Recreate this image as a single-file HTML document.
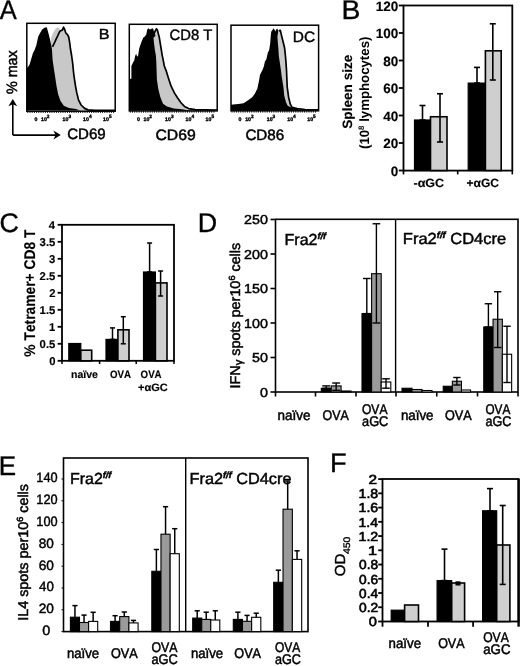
<!DOCTYPE html>
<html><head><meta charset="utf-8"><style>
html,body{margin:0;padding:0;background:#fff;width:520px;height:666px;overflow:hidden}
svg{display:block;will-change:transform}
text{font-family:"Liberation Sans", sans-serif;fill:#000;font-kerning:none;text-rendering:geometricPrecision}
</style></head><body>
<svg width="520" height="666" viewBox="0 0 520 666">
<rect x="0" y="0" width="520" height="666" fill="#fff"/>
<text x="-0.25" y="18.75" font-size="27" textLength="17" lengthAdjust="spacingAndGlyphs" stroke="#000" stroke-width="0.35">A</text>
<text x="341.57" y="18.75" font-size="27" textLength="18.92" lengthAdjust="spacingAndGlyphs" stroke="#000" stroke-width="0.35">B</text>
<text x="-0.46" y="231.5" font-size="27" textLength="19.39" lengthAdjust="spacingAndGlyphs" stroke="#000" stroke-width="0.35">C</text>
<text x="197.7" y="231.8" font-size="27" textLength="19.39" lengthAdjust="spacingAndGlyphs" stroke="#000" stroke-width="0.35">D</text>
<text x="-1.23" y="474.7" font-size="27" textLength="17.35" lengthAdjust="spacingAndGlyphs" stroke="#000" stroke-width="0.35">E</text>
<text x="329.97" y="472.4" font-size="27" textLength="16.62" lengthAdjust="spacingAndGlyphs" stroke="#000" stroke-width="0.35">F</text>
<polygon points="52,110.5 50.8,39.3 52,35.3 53.7,31.8 55.4,28.9 57.2,27.2 58.9,27.8 60.6,30.7 62.3,30.1 63.5,27.2 64.7,29.5 65.8,33 67.5,34.7 68.7,37 69.6,42.2 70.4,48.5 71.6,55.5 72.7,63.5 73.5,72 74.2,77.3 75.5,86 76.8,92.9 78.5,99.8 81.1,105 84.6,108.4 88,109.7 90,110.5" fill="#c8c8c8"/>
<polygon points="26.8,110.5 26.8,68.4 29.5,64.7 31.2,58.9 32.9,53.2 34.7,49.7 36.4,45.1 38.1,37 39.8,33.5 42.2,29.5 44.5,27.8 46.8,27.2 47.9,31.2 49.1,35.8 50.2,40.5 51.2,45.1 52,49.7 52.6,60 53.9,68.7 55.2,77.3 56.5,86 58.2,94.6 60.4,100.7 63.8,105.8 69,108 76,108.9 80,110.5" fill="#000"/>
<polyline points="52.5,46.8 54.8,42.2 56,39.3 57.7,35.8 59.5,31.8 60.6,30.7 62.3,30.1 63.5,27.2 64.7,29.5 65.8,33 67.5,34.7 68.7,37 69.6,42.2 70.4,48.5 71.6,55.5 72.7,63.5 73.5,72 74.2,77.3 75.5,86 76.8,92.9 78.5,99.8 81.1,105 84.6,108.4 88,109.9 95,110.3 115,110.3" fill="none" stroke="#000" stroke-width="1.7" stroke-linejoin="round"/>
<polygon points="153,110.5 153,37 154,33.6 155.4,30.7 156.4,28.8 157.3,29.8 158.3,33.6 159.3,37.5 160.2,43.2 161.2,49 162.1,54.8 163.1,59.6 164.3,66 166.4,71.4 168.4,78.1 171.1,86.2 174.4,92.9 177.8,98.3 181.2,103 184.5,106.4 188.6,108.6 195.3,109.6 200,110.5" fill="#c8c8c8"/>
<polygon points="129.3,110.5 129.3,79 131.4,78.8 131.4,66 133.3,62 134.25,60.5 135.2,55.7 136.2,53.8 137.1,56.7 138.1,55.7 139.1,49 140,46.1 141,43.2 141.9,40.8 143.4,37.5 144.8,36.5 146.3,34.6 147.2,29.8 148.2,28.3 149.6,29.3 151.1,29.3 152,28.3 153.2,28.8 154,31.7 154.9,33.6 155.5,36 153.5,37.5 154,43.2 154.9,50 155.9,55.7 156.3,62 156.9,79.5 158.3,88.9 160.3,97 163,103.7 167,106.4 173.8,108.4 181.8,109.3 190,110.5" fill="#000"/>
<polyline points="154,33.6 155.4,30.7 156.4,28.8 157.3,29.8 158.3,33.6 159.3,37.5 160.2,43.2 161.2,49 162.1,54.8 163.1,59.6 164.3,66 166.4,71.4 168.4,78.1 171.1,86.2 174.4,92.9 177.8,98.3 181.2,103 184.5,106.4 188.6,108.6 195.3,109.6 217,110" fill="none" stroke="#000" stroke-width="1.7" stroke-linejoin="round"/>
<polygon points="277,110.5 277,33 278.8,30.7 280.3,30.3 281.3,34.6 282.7,40.3 283.7,44.2 284.6,48 285.1,52.8 285.6,57.7 286.1,64.4 286.5,70.2 287.2,86.8 288.6,97.2 290.3,104.1 292,107.3 297.2,108.6 305,109.6 300,110.5" fill="#c8c8c8"/>
<polygon points="231,110.5 231,104.8 233.2,104.4 238.4,104.1 243.6,103.2 246.2,101.5 248.8,99.7 252.2,97.2 254.8,93.7 257.4,88.5 259.2,79.8 260,74.7 262.5,70 263.9,66.3 264.9,61.5 266.3,59.6 267.8,52.8 269.2,50 270.2,43.2 270.7,36.5 271.2,31.7 272.6,29.8 273.6,28.3 274.5,29.8 275.5,31.2 276.4,29.3 277.4,28.8 278.4,30.7 277.4,36.5 277.9,43.2 278.4,49 278.8,55.7 279.8,62.5 280.8,69.2 281.7,76.4 283.4,86.8 284.2,95.4 286,102.3 287.7,105.8 291.2,107.6 297.2,108.6 300,110.5" fill="#000"/>
<polyline points="278.8,30.7 280.3,30.3 281.3,34.6 282.7,40.3 283.7,44.2 284.6,48 285.1,52.8 285.6,57.7 286.1,64.4 286.5,70.2 287.2,86.8 288.6,97.2 290.3,104.1 292,107.3 297.2,108.6 305,109.6 318,109.9" fill="none" stroke="#000" stroke-width="1.7" stroke-linejoin="round"/>
<rect x="26.8" y="23.3" width="88.4" height="87.9" fill="none" stroke="#000" stroke-width="1.5"/>
<line x1="27.8" y1="111.2" x2="27.8" y2="113" stroke="#000" stroke-width="0.9"/>
<line x1="30" y1="111.2" x2="30" y2="113" stroke="#000" stroke-width="0.9"/>
<line x1="32.2" y1="111.2" x2="32.2" y2="113" stroke="#000" stroke-width="0.9"/>
<line x1="34.4" y1="111.2" x2="34.4" y2="113" stroke="#000" stroke-width="0.9"/>
<line x1="36.6" y1="111.2" x2="36.6" y2="113" stroke="#000" stroke-width="0.9"/>
<line x1="38.8" y1="111.2" x2="38.8" y2="113" stroke="#000" stroke-width="0.9"/>
<line x1="41" y1="111.2" x2="41" y2="113" stroke="#000" stroke-width="0.9"/>
<line x1="43.2" y1="111.2" x2="43.2" y2="113" stroke="#000" stroke-width="0.9"/>
<line x1="45.4" y1="111.2" x2="45.4" y2="113" stroke="#000" stroke-width="0.9"/>
<line x1="47.6" y1="111.2" x2="47.6" y2="113" stroke="#000" stroke-width="0.9"/>
<line x1="49.8" y1="111.2" x2="49.8" y2="113" stroke="#000" stroke-width="0.9"/>
<line x1="52" y1="111.2" x2="52" y2="113" stroke="#000" stroke-width="0.9"/>
<line x1="54.2" y1="111.2" x2="54.2" y2="113" stroke="#000" stroke-width="0.9"/>
<line x1="56.4" y1="111.2" x2="56.4" y2="113" stroke="#000" stroke-width="0.9"/>
<line x1="58.6" y1="111.2" x2="58.6" y2="113" stroke="#000" stroke-width="0.9"/>
<line x1="60.8" y1="111.2" x2="60.8" y2="113" stroke="#000" stroke-width="0.9"/>
<line x1="63" y1="111.2" x2="63" y2="113" stroke="#000" stroke-width="0.9"/>
<line x1="65.2" y1="111.2" x2="65.2" y2="113" stroke="#000" stroke-width="0.9"/>
<line x1="67.4" y1="111.2" x2="67.4" y2="113" stroke="#000" stroke-width="0.9"/>
<line x1="69.6" y1="111.2" x2="69.6" y2="113" stroke="#000" stroke-width="0.9"/>
<line x1="71.8" y1="111.2" x2="71.8" y2="113" stroke="#000" stroke-width="0.9"/>
<line x1="74" y1="111.2" x2="74" y2="113" stroke="#000" stroke-width="0.9"/>
<line x1="76.2" y1="111.2" x2="76.2" y2="113" stroke="#000" stroke-width="0.9"/>
<line x1="78.4" y1="111.2" x2="78.4" y2="113" stroke="#000" stroke-width="0.9"/>
<line x1="80.6" y1="111.2" x2="80.6" y2="113" stroke="#000" stroke-width="0.9"/>
<line x1="82.8" y1="111.2" x2="82.8" y2="113" stroke="#000" stroke-width="0.9"/>
<line x1="85" y1="111.2" x2="85" y2="113" stroke="#000" stroke-width="0.9"/>
<line x1="87.2" y1="111.2" x2="87.2" y2="113" stroke="#000" stroke-width="0.9"/>
<line x1="89.4" y1="111.2" x2="89.4" y2="113" stroke="#000" stroke-width="0.9"/>
<line x1="91.6" y1="111.2" x2="91.6" y2="113" stroke="#000" stroke-width="0.9"/>
<line x1="93.8" y1="111.2" x2="93.8" y2="113" stroke="#000" stroke-width="0.9"/>
<line x1="96" y1="111.2" x2="96" y2="113" stroke="#000" stroke-width="0.9"/>
<line x1="98.2" y1="111.2" x2="98.2" y2="113" stroke="#000" stroke-width="0.9"/>
<line x1="100.4" y1="111.2" x2="100.4" y2="113" stroke="#000" stroke-width="0.9"/>
<line x1="102.6" y1="111.2" x2="102.6" y2="113" stroke="#000" stroke-width="0.9"/>
<line x1="104.8" y1="111.2" x2="104.8" y2="113" stroke="#000" stroke-width="0.9"/>
<line x1="107" y1="111.2" x2="107" y2="113" stroke="#000" stroke-width="0.9"/>
<line x1="109.2" y1="111.2" x2="109.2" y2="113" stroke="#000" stroke-width="0.9"/>
<line x1="111.4" y1="111.2" x2="111.4" y2="113" stroke="#000" stroke-width="0.9"/>
<line x1="113.6" y1="111.2" x2="113.6" y2="113" stroke="#000" stroke-width="0.9"/>
<rect x="129.3" y="24.3" width="87.9" height="86.6" fill="none" stroke="#000" stroke-width="1.5"/>
<line x1="130.3" y1="110.9" x2="130.3" y2="112.7" stroke="#000" stroke-width="0.9"/>
<line x1="132.5" y1="110.9" x2="132.5" y2="112.7" stroke="#000" stroke-width="0.9"/>
<line x1="134.7" y1="110.9" x2="134.7" y2="112.7" stroke="#000" stroke-width="0.9"/>
<line x1="136.9" y1="110.9" x2="136.9" y2="112.7" stroke="#000" stroke-width="0.9"/>
<line x1="139.1" y1="110.9" x2="139.1" y2="112.7" stroke="#000" stroke-width="0.9"/>
<line x1="141.3" y1="110.9" x2="141.3" y2="112.7" stroke="#000" stroke-width="0.9"/>
<line x1="143.5" y1="110.9" x2="143.5" y2="112.7" stroke="#000" stroke-width="0.9"/>
<line x1="145.7" y1="110.9" x2="145.7" y2="112.7" stroke="#000" stroke-width="0.9"/>
<line x1="147.9" y1="110.9" x2="147.9" y2="112.7" stroke="#000" stroke-width="0.9"/>
<line x1="150.1" y1="110.9" x2="150.1" y2="112.7" stroke="#000" stroke-width="0.9"/>
<line x1="152.3" y1="110.9" x2="152.3" y2="112.7" stroke="#000" stroke-width="0.9"/>
<line x1="154.5" y1="110.9" x2="154.5" y2="112.7" stroke="#000" stroke-width="0.9"/>
<line x1="156.7" y1="110.9" x2="156.7" y2="112.7" stroke="#000" stroke-width="0.9"/>
<line x1="158.9" y1="110.9" x2="158.9" y2="112.7" stroke="#000" stroke-width="0.9"/>
<line x1="161.1" y1="110.9" x2="161.1" y2="112.7" stroke="#000" stroke-width="0.9"/>
<line x1="163.3" y1="110.9" x2="163.3" y2="112.7" stroke="#000" stroke-width="0.9"/>
<line x1="165.5" y1="110.9" x2="165.5" y2="112.7" stroke="#000" stroke-width="0.9"/>
<line x1="167.7" y1="110.9" x2="167.7" y2="112.7" stroke="#000" stroke-width="0.9"/>
<line x1="169.9" y1="110.9" x2="169.9" y2="112.7" stroke="#000" stroke-width="0.9"/>
<line x1="172.1" y1="110.9" x2="172.1" y2="112.7" stroke="#000" stroke-width="0.9"/>
<line x1="174.3" y1="110.9" x2="174.3" y2="112.7" stroke="#000" stroke-width="0.9"/>
<line x1="176.5" y1="110.9" x2="176.5" y2="112.7" stroke="#000" stroke-width="0.9"/>
<line x1="178.7" y1="110.9" x2="178.7" y2="112.7" stroke="#000" stroke-width="0.9"/>
<line x1="180.9" y1="110.9" x2="180.9" y2="112.7" stroke="#000" stroke-width="0.9"/>
<line x1="183.1" y1="110.9" x2="183.1" y2="112.7" stroke="#000" stroke-width="0.9"/>
<line x1="185.3" y1="110.9" x2="185.3" y2="112.7" stroke="#000" stroke-width="0.9"/>
<line x1="187.5" y1="110.9" x2="187.5" y2="112.7" stroke="#000" stroke-width="0.9"/>
<line x1="189.7" y1="110.9" x2="189.7" y2="112.7" stroke="#000" stroke-width="0.9"/>
<line x1="191.9" y1="110.9" x2="191.9" y2="112.7" stroke="#000" stroke-width="0.9"/>
<line x1="194.1" y1="110.9" x2="194.1" y2="112.7" stroke="#000" stroke-width="0.9"/>
<line x1="196.3" y1="110.9" x2="196.3" y2="112.7" stroke="#000" stroke-width="0.9"/>
<line x1="198.5" y1="110.9" x2="198.5" y2="112.7" stroke="#000" stroke-width="0.9"/>
<line x1="200.7" y1="110.9" x2="200.7" y2="112.7" stroke="#000" stroke-width="0.9"/>
<line x1="202.9" y1="110.9" x2="202.9" y2="112.7" stroke="#000" stroke-width="0.9"/>
<line x1="205.1" y1="110.9" x2="205.1" y2="112.7" stroke="#000" stroke-width="0.9"/>
<line x1="207.3" y1="110.9" x2="207.3" y2="112.7" stroke="#000" stroke-width="0.9"/>
<line x1="209.5" y1="110.9" x2="209.5" y2="112.7" stroke="#000" stroke-width="0.9"/>
<line x1="211.7" y1="110.9" x2="211.7" y2="112.7" stroke="#000" stroke-width="0.9"/>
<line x1="213.9" y1="110.9" x2="213.9" y2="112.7" stroke="#000" stroke-width="0.9"/>
<rect x="231" y="25.2" width="87.6" height="85.6" fill="none" stroke="#000" stroke-width="1.5"/>
<line x1="232" y1="110.8" x2="232" y2="112.6" stroke="#000" stroke-width="0.9"/>
<line x1="234.2" y1="110.8" x2="234.2" y2="112.6" stroke="#000" stroke-width="0.9"/>
<line x1="236.4" y1="110.8" x2="236.4" y2="112.6" stroke="#000" stroke-width="0.9"/>
<line x1="238.6" y1="110.8" x2="238.6" y2="112.6" stroke="#000" stroke-width="0.9"/>
<line x1="240.8" y1="110.8" x2="240.8" y2="112.6" stroke="#000" stroke-width="0.9"/>
<line x1="243" y1="110.8" x2="243" y2="112.6" stroke="#000" stroke-width="0.9"/>
<line x1="245.2" y1="110.8" x2="245.2" y2="112.6" stroke="#000" stroke-width="0.9"/>
<line x1="247.4" y1="110.8" x2="247.4" y2="112.6" stroke="#000" stroke-width="0.9"/>
<line x1="249.6" y1="110.8" x2="249.6" y2="112.6" stroke="#000" stroke-width="0.9"/>
<line x1="251.8" y1="110.8" x2="251.8" y2="112.6" stroke="#000" stroke-width="0.9"/>
<line x1="254" y1="110.8" x2="254" y2="112.6" stroke="#000" stroke-width="0.9"/>
<line x1="256.2" y1="110.8" x2="256.2" y2="112.6" stroke="#000" stroke-width="0.9"/>
<line x1="258.4" y1="110.8" x2="258.4" y2="112.6" stroke="#000" stroke-width="0.9"/>
<line x1="260.6" y1="110.8" x2="260.6" y2="112.6" stroke="#000" stroke-width="0.9"/>
<line x1="262.8" y1="110.8" x2="262.8" y2="112.6" stroke="#000" stroke-width="0.9"/>
<line x1="265" y1="110.8" x2="265" y2="112.6" stroke="#000" stroke-width="0.9"/>
<line x1="267.2" y1="110.8" x2="267.2" y2="112.6" stroke="#000" stroke-width="0.9"/>
<line x1="269.4" y1="110.8" x2="269.4" y2="112.6" stroke="#000" stroke-width="0.9"/>
<line x1="271.6" y1="110.8" x2="271.6" y2="112.6" stroke="#000" stroke-width="0.9"/>
<line x1="273.8" y1="110.8" x2="273.8" y2="112.6" stroke="#000" stroke-width="0.9"/>
<line x1="276" y1="110.8" x2="276" y2="112.6" stroke="#000" stroke-width="0.9"/>
<line x1="278.2" y1="110.8" x2="278.2" y2="112.6" stroke="#000" stroke-width="0.9"/>
<line x1="280.4" y1="110.8" x2="280.4" y2="112.6" stroke="#000" stroke-width="0.9"/>
<line x1="282.6" y1="110.8" x2="282.6" y2="112.6" stroke="#000" stroke-width="0.9"/>
<line x1="284.8" y1="110.8" x2="284.8" y2="112.6" stroke="#000" stroke-width="0.9"/>
<line x1="287" y1="110.8" x2="287" y2="112.6" stroke="#000" stroke-width="0.9"/>
<line x1="289.2" y1="110.8" x2="289.2" y2="112.6" stroke="#000" stroke-width="0.9"/>
<line x1="291.4" y1="110.8" x2="291.4" y2="112.6" stroke="#000" stroke-width="0.9"/>
<line x1="293.6" y1="110.8" x2="293.6" y2="112.6" stroke="#000" stroke-width="0.9"/>
<line x1="295.8" y1="110.8" x2="295.8" y2="112.6" stroke="#000" stroke-width="0.9"/>
<line x1="298" y1="110.8" x2="298" y2="112.6" stroke="#000" stroke-width="0.9"/>
<line x1="300.2" y1="110.8" x2="300.2" y2="112.6" stroke="#000" stroke-width="0.9"/>
<line x1="302.4" y1="110.8" x2="302.4" y2="112.6" stroke="#000" stroke-width="0.9"/>
<line x1="304.6" y1="110.8" x2="304.6" y2="112.6" stroke="#000" stroke-width="0.9"/>
<line x1="306.8" y1="110.8" x2="306.8" y2="112.6" stroke="#000" stroke-width="0.9"/>
<line x1="309" y1="110.8" x2="309" y2="112.6" stroke="#000" stroke-width="0.9"/>
<line x1="311.2" y1="110.8" x2="311.2" y2="112.6" stroke="#000" stroke-width="0.9"/>
<line x1="313.4" y1="110.8" x2="313.4" y2="112.6" stroke="#000" stroke-width="0.9"/>
<line x1="315.6" y1="110.8" x2="315.6" y2="112.6" stroke="#000" stroke-width="0.9"/>
<text x="98.87" y="38.5" font-size="14.5" textLength="10.78" lengthAdjust="spacingAndGlyphs" stroke="#000" stroke-width="0.4">B</text>
<text x="169.45" y="39.8" font-size="15" textLength="42.89" lengthAdjust="spacingAndGlyphs" stroke="#000" stroke-width="0.4">CD8 T</text>
<text x="292.83" y="41.6" font-size="15" textLength="22.36" lengthAdjust="spacingAndGlyphs" stroke="#000" stroke-width="0.4">DC</text>
<text x="34.4" y="121.2" font-size="5.2" font-weight="bold" stroke="#000" stroke-width="0.35">0</text>
<text x="41" y="121.2" font-size="5.2" font-weight="bold" stroke="#000" stroke-width="0.35">10<tspan dy="-3" font-size="4.8">2</tspan></text>
<text x="62.6" y="121.2" font-size="5.2" font-weight="bold" stroke="#000" stroke-width="0.35">10<tspan dy="-3" font-size="4.8">3</tspan></text>
<text x="83.1" y="121.2" font-size="5.2" font-weight="bold" stroke="#000" stroke-width="0.35">10<tspan dy="-3" font-size="4.8">4</tspan></text>
<text x="103.1" y="121.2" font-size="5.2" font-weight="bold" stroke="#000" stroke-width="0.35">10<tspan dy="-3" font-size="4.8">5</tspan></text>
<text x="136.9" y="121.2" font-size="5.2" font-weight="bold" stroke="#000" stroke-width="0.35">0</text>
<text x="143.5" y="121.2" font-size="5.2" font-weight="bold" stroke="#000" stroke-width="0.35">10<tspan dy="-3" font-size="4.8">2</tspan></text>
<text x="165.1" y="121.2" font-size="5.2" font-weight="bold" stroke="#000" stroke-width="0.35">10<tspan dy="-3" font-size="4.8">3</tspan></text>
<text x="185.6" y="121.2" font-size="5.2" font-weight="bold" stroke="#000" stroke-width="0.35">10<tspan dy="-3" font-size="4.8">4</tspan></text>
<text x="205.6" y="121.2" font-size="5.2" font-weight="bold" stroke="#000" stroke-width="0.35">10<tspan dy="-3" font-size="4.8">5</tspan></text>
<text x="238.6" y="121.2" font-size="5.2" font-weight="bold" stroke="#000" stroke-width="0.35">0</text>
<text x="245.2" y="121.2" font-size="5.2" font-weight="bold" stroke="#000" stroke-width="0.35">10<tspan dy="-3" font-size="4.8">2</tspan></text>
<text x="266.8" y="121.2" font-size="5.2" font-weight="bold" stroke="#000" stroke-width="0.35">10<tspan dy="-3" font-size="4.8">3</tspan></text>
<text x="287.3" y="121.2" font-size="5.2" font-weight="bold" stroke="#000" stroke-width="0.35">10<tspan dy="-3" font-size="4.8">4</tspan></text>
<text x="307.3" y="121.2" font-size="5.2" font-weight="bold" stroke="#000" stroke-width="0.35">10<tspan dy="-3" font-size="4.8">5</tspan></text>
<text x="67.24" y="139.2" font-size="15" textLength="38.48" lengthAdjust="spacingAndGlyphs" stroke="#000" stroke-width="0.5">CD69</text>
<text x="155.5" y="140" font-size="15" textLength="40.24" lengthAdjust="spacingAndGlyphs" stroke="#000" stroke-width="0.5">CD69</text>
<text x="245.43" y="140" font-size="15" textLength="38.74" lengthAdjust="spacingAndGlyphs" stroke="#000" stroke-width="0.5">CD86</text>
<text transform="translate(17.3,94.11) rotate(-90)" font-size="15" textLength="43.87" lengthAdjust="spacingAndGlyphs" stroke="#000" stroke-width="0.5">% max</text>
<line x1="12.8" y1="104" x2="12.8" y2="135.1" stroke="#000" stroke-width="1.6"/>
<line x1="12.8" y1="135.1" x2="56" y2="135.1" stroke="#000" stroke-width="1.6"/>
<polygon points="12.8,99 17.2,106.2 12.8,104.2 8.4,106.2" fill="#000"/>
<polygon points="60.8,135.1 53.4,130.6 55.6,135.1 53.4,139.6" fill="#000"/>
<rect x="403.5" y="5.5" width="108.8" height="165.1" fill="none" stroke="#000" stroke-width="1.8"/>
<line x1="398.8" y1="170.5" x2="403.5" y2="170.5" stroke="#000" stroke-width="1.8"/>
<text x="390.85" y="175.9" font-size="13.5" font-weight="bold" textLength="7.51" lengthAdjust="spacingAndGlyphs" stroke="#000" stroke-width="0.15">0</text>
<line x1="398.8" y1="143" x2="403.5" y2="143" stroke="#000" stroke-width="1.8"/>
<text x="383.34" y="148.4" font-size="13.5" font-weight="bold" textLength="15.02" lengthAdjust="spacingAndGlyphs" stroke="#000" stroke-width="0.15">20</text>
<line x1="398.8" y1="115.5" x2="403.5" y2="115.5" stroke="#000" stroke-width="1.8"/>
<text x="383.34" y="120.9" font-size="13.5" font-weight="bold" textLength="15.02" lengthAdjust="spacingAndGlyphs" stroke="#000" stroke-width="0.15">40</text>
<line x1="398.8" y1="88" x2="403.5" y2="88" stroke="#000" stroke-width="1.8"/>
<text x="383.34" y="93.4" font-size="13.5" font-weight="bold" textLength="15.02" lengthAdjust="spacingAndGlyphs" stroke="#000" stroke-width="0.15">60</text>
<line x1="398.8" y1="60.5" x2="403.5" y2="60.5" stroke="#000" stroke-width="1.8"/>
<text x="383.34" y="65.9" font-size="13.5" font-weight="bold" textLength="15.02" lengthAdjust="spacingAndGlyphs" stroke="#000" stroke-width="0.15">80</text>
<line x1="398.8" y1="33" x2="403.5" y2="33" stroke="#000" stroke-width="1.8"/>
<text x="375.83" y="38.4" font-size="13.5" font-weight="bold" textLength="22.52" lengthAdjust="spacingAndGlyphs" stroke="#000" stroke-width="0.15">100</text>
<line x1="398.8" y1="5.5" x2="403.5" y2="5.5" stroke="#000" stroke-width="1.8"/>
<text x="375.83" y="10.9" font-size="13.5" font-weight="bold" textLength="22.52" lengthAdjust="spacingAndGlyphs" stroke="#000" stroke-width="0.15">120</text>
<line x1="403.5" y1="170.5" x2="403.5" y2="174.4" stroke="#000" stroke-width="1.6"/>
<line x1="457.7" y1="170.5" x2="457.7" y2="174.4" stroke="#000" stroke-width="1.6"/>
<line x1="512.3" y1="170.5" x2="512.3" y2="174.4" stroke="#000" stroke-width="1.6"/>
<rect x="414.5" y="120" width="16" height="50.5" fill="#000" stroke="#000" stroke-width="1.2"/>
<rect x="430.5" y="116.75" width="16.5" height="53.75" fill="#cfcfcf" stroke="#000" stroke-width="1.6"/>
<rect x="468.2" y="83.1" width="17.2" height="87.4" fill="#000" stroke="#000" stroke-width="1.2"/>
<rect x="485.4" y="50.8" width="15.8" height="119.7" fill="#cfcfcf" stroke="#000" stroke-width="1.6"/>
<line x1="422.5" y1="105.5" x2="422.5" y2="120" stroke="#000" stroke-width="1.6"/>
<line x1="419.5" y1="105.5" x2="425.5" y2="105.5" stroke="#000" stroke-width="1.6"/>
<line x1="419.5" y1="120" x2="425.5" y2="120" stroke="#000" stroke-width="1.6"/>
<line x1="440" y1="93.75" x2="440" y2="142" stroke="#000" stroke-width="1.6"/>
<line x1="437" y1="93.75" x2="443" y2="93.75" stroke="#000" stroke-width="1.6"/>
<line x1="437" y1="142" x2="443" y2="142" stroke="#000" stroke-width="1.6"/>
<line x1="477" y1="67.4" x2="477" y2="83.1" stroke="#000" stroke-width="1.6"/>
<line x1="474" y1="67.4" x2="480" y2="67.4" stroke="#000" stroke-width="1.6"/>
<line x1="474" y1="83.1" x2="480" y2="83.1" stroke="#000" stroke-width="1.6"/>
<line x1="492.8" y1="23.8" x2="492.8" y2="80" stroke="#000" stroke-width="1.6"/>
<line x1="489.8" y1="23.8" x2="495.8" y2="23.8" stroke="#000" stroke-width="1.6"/>
<line x1="489.8" y1="80" x2="495.8" y2="80" stroke="#000" stroke-width="1.6"/>
<text x="413.51" y="186.9" font-size="12" font-weight="bold" textLength="30.63" lengthAdjust="spacingAndGlyphs" stroke="#000" stroke-width="0.15">-αGC</text>
<text x="466.49" y="186.9" font-size="12" font-weight="bold" textLength="32.54" lengthAdjust="spacingAndGlyphs" stroke="#000" stroke-width="0.15">+αGC</text>
<text transform="translate(351.6,128.79) rotate(-90)" font-size="13.5" font-weight="bold" textLength="74.26" lengthAdjust="spacingAndGlyphs" stroke="#000" stroke-width="0.15">Spleen size</text>
<text transform="translate(368.6,149) rotate(-90)" font-size="13.5" font-weight="bold" textLength="112.4" lengthAdjust="spacingAndGlyphs">(10<tspan dy="-5" font-size="8">8</tspan><tspan dy="5"> lymphocytes)</tspan></text>
<rect x="62" y="224.8" width="112" height="136" fill="none" stroke="#000" stroke-width="1.8"/>
<line x1="57.6" y1="360.8" x2="62" y2="360.8" stroke="#000" stroke-width="1.8"/>
<text x="49.18" y="365" font-size="11.3" font-weight="bold" textLength="6.28" lengthAdjust="spacingAndGlyphs" stroke="#000" stroke-width="0.15">0</text>
<line x1="57.6" y1="343.8" x2="62" y2="343.8" stroke="#000" stroke-width="1.8"/>
<text x="39.61" y="348" font-size="11.3" font-weight="bold" textLength="15.71" lengthAdjust="spacingAndGlyphs" stroke="#000" stroke-width="0.15">0.5</text>
<line x1="57.6" y1="326.8" x2="62" y2="326.8" stroke="#000" stroke-width="1.8"/>
<text x="49.03" y="331" font-size="11.3" font-weight="bold" textLength="6.28" lengthAdjust="spacingAndGlyphs" stroke="#000" stroke-width="0.15">1</text>
<line x1="57.6" y1="309.8" x2="62" y2="309.8" stroke="#000" stroke-width="1.8"/>
<text x="39.61" y="314" font-size="11.3" font-weight="bold" textLength="15.71" lengthAdjust="spacingAndGlyphs" stroke="#000" stroke-width="0.15">1.5</text>
<line x1="57.6" y1="292.8" x2="62" y2="292.8" stroke="#000" stroke-width="1.8"/>
<text x="49.17" y="297" font-size="11.3" font-weight="bold" textLength="6.28" lengthAdjust="spacingAndGlyphs" stroke="#000" stroke-width="0.15">2</text>
<line x1="57.6" y1="275.8" x2="62" y2="275.8" stroke="#000" stroke-width="1.8"/>
<text x="39.61" y="280" font-size="11.3" font-weight="bold" textLength="15.71" lengthAdjust="spacingAndGlyphs" stroke="#000" stroke-width="0.15">2.5</text>
<line x1="57.6" y1="258.8" x2="62" y2="258.8" stroke="#000" stroke-width="1.8"/>
<text x="49.12" y="263" font-size="11.3" font-weight="bold" textLength="6.28" lengthAdjust="spacingAndGlyphs" stroke="#000" stroke-width="0.15">3</text>
<line x1="57.6" y1="241.8" x2="62" y2="241.8" stroke="#000" stroke-width="1.8"/>
<text x="39.61" y="246" font-size="11.3" font-weight="bold" textLength="15.71" lengthAdjust="spacingAndGlyphs" stroke="#000" stroke-width="0.15">3.5</text>
<line x1="57.6" y1="224.8" x2="62" y2="224.8" stroke="#000" stroke-width="1.8"/>
<text x="48.78" y="229" font-size="11.3" font-weight="bold" textLength="6.28" lengthAdjust="spacingAndGlyphs" stroke="#000" stroke-width="0.15">4</text>
<line x1="62" y1="360.8" x2="62" y2="364" stroke="#000" stroke-width="1.5"/>
<line x1="99.6" y1="360.8" x2="99.6" y2="364" stroke="#000" stroke-width="1.5"/>
<line x1="136.2" y1="360.8" x2="136.2" y2="364" stroke="#000" stroke-width="1.5"/>
<line x1="174" y1="360.8" x2="174" y2="364" stroke="#000" stroke-width="1.5"/>
<rect x="68.8" y="343.5" width="12" height="17.3" fill="#000" stroke="#000" stroke-width="1.2"/>
<rect x="80.8" y="350.2" width="10.9" height="10.6" fill="#cfcfcf" stroke="#000" stroke-width="1.6"/>
<rect x="106" y="339.4" width="11.9" height="21.4" fill="#000" stroke="#000" stroke-width="1.2"/>
<rect x="117.9" y="329.8" width="11.1" height="31" fill="#cfcfcf" stroke="#000" stroke-width="1.6"/>
<rect x="143.5" y="272" width="11.9" height="88.8" fill="#000" stroke="#000" stroke-width="1.2"/>
<rect x="155.4" y="282.9" width="11.6" height="77.9" fill="#cfcfcf" stroke="#000" stroke-width="1.6"/>
<line x1="112.5" y1="327.9" x2="112.5" y2="339.4" stroke="#000" stroke-width="1.5"/>
<line x1="110" y1="327.9" x2="115" y2="327.9" stroke="#000" stroke-width="1.5"/>
<line x1="110" y1="339.4" x2="115" y2="339.4" stroke="#000" stroke-width="1.5"/>
<line x1="123.3" y1="316.7" x2="123.3" y2="343.8" stroke="#000" stroke-width="1.5"/>
<line x1="120.8" y1="316.7" x2="125.8" y2="316.7" stroke="#000" stroke-width="1.5"/>
<line x1="120.8" y1="343.8" x2="125.8" y2="343.8" stroke="#000" stroke-width="1.5"/>
<line x1="149.6" y1="243" x2="149.6" y2="272" stroke="#000" stroke-width="1.5"/>
<line x1="147.1" y1="243" x2="152.1" y2="243" stroke="#000" stroke-width="1.5"/>
<line x1="147.1" y1="272" x2="152.1" y2="272" stroke="#000" stroke-width="1.5"/>
<line x1="160.6" y1="271" x2="160.6" y2="296" stroke="#000" stroke-width="1.5"/>
<line x1="158.1" y1="271" x2="163.1" y2="271" stroke="#000" stroke-width="1.5"/>
<line x1="158.1" y1="296" x2="163.1" y2="296" stroke="#000" stroke-width="1.5"/>
<text transform="translate(35.2,356.64) rotate(-90)" font-size="15.5" font-weight="bold" textLength="126.99" lengthAdjust="spacingAndGlyphs" stroke="#000" stroke-width="0.15">% Tetramer+ CD8 T</text>
<text x="71.01" y="378.3" font-size="10.8" font-weight="bold" textLength="26.96" lengthAdjust="spacingAndGlyphs" stroke="#000" stroke-width="0.15">naïve</text>
<text x="110" y="378.3" font-size="10.8" font-weight="bold" textLength="21.05" lengthAdjust="spacingAndGlyphs" stroke="#000" stroke-width="0.15">OVA</text>
<text x="140.6" y="378.3" font-size="10.8" font-weight="bold" textLength="21.05" lengthAdjust="spacingAndGlyphs" stroke="#000" stroke-width="0.15">OVA</text>
<text x="137.94" y="391.2" font-size="10.8" font-weight="bold" textLength="29.87" lengthAdjust="spacingAndGlyphs" stroke="#000" stroke-width="0.15">+αGC</text>
<rect x="275.5" y="219.3" width="242.5" height="172.7" fill="none" stroke="#000" stroke-width="1.6"/>
<line x1="395.6" y1="219.3" x2="395.6" y2="392" stroke="#000" stroke-width="1.4"/>
<line x1="270.5" y1="392" x2="275.5" y2="392" stroke="#000" stroke-width="1.6"/>
<text x="259.91" y="396.6" font-size="13" textLength="7.95" lengthAdjust="spacingAndGlyphs" stroke="#000" stroke-width="0.45">0</text>
<line x1="270.5" y1="357.5" x2="275.5" y2="357.5" stroke="#000" stroke-width="1.6"/>
<text x="251.95" y="362.1" font-size="13" textLength="15.91" lengthAdjust="spacingAndGlyphs" stroke="#000" stroke-width="0.45">50</text>
<line x1="270.5" y1="323" x2="275.5" y2="323" stroke="#000" stroke-width="1.6"/>
<text x="244" y="327.6" font-size="13" textLength="23.86" lengthAdjust="spacingAndGlyphs" stroke="#000" stroke-width="0.45">100</text>
<line x1="270.5" y1="288.5" x2="275.5" y2="288.5" stroke="#000" stroke-width="1.6"/>
<text x="244" y="293.1" font-size="13" textLength="23.86" lengthAdjust="spacingAndGlyphs" stroke="#000" stroke-width="0.45">150</text>
<line x1="270.5" y1="254" x2="275.5" y2="254" stroke="#000" stroke-width="1.6"/>
<text x="244" y="258.6" font-size="13" textLength="23.86" lengthAdjust="spacingAndGlyphs" stroke="#000" stroke-width="0.45">200</text>
<line x1="270.5" y1="219.5" x2="275.5" y2="219.5" stroke="#000" stroke-width="1.6"/>
<text x="244" y="224.1" font-size="13" textLength="23.86" lengthAdjust="spacingAndGlyphs" stroke="#000" stroke-width="0.45">250</text>
<line x1="275.5" y1="392" x2="275.5" y2="396.5" stroke="#000" stroke-width="1.6"/>
<line x1="315.5" y1="392" x2="315.5" y2="396.5" stroke="#000" stroke-width="1.6"/>
<line x1="356" y1="392" x2="356" y2="396.5" stroke="#000" stroke-width="1.6"/>
<line x1="396" y1="392" x2="396" y2="396.5" stroke="#000" stroke-width="1.6"/>
<line x1="436.75" y1="392" x2="436.75" y2="396.5" stroke="#000" stroke-width="1.6"/>
<line x1="477.5" y1="392" x2="477.5" y2="396.5" stroke="#000" stroke-width="1.6"/>
<line x1="518" y1="392" x2="518" y2="396.5" stroke="#000" stroke-width="1.6"/>
<rect x="321.3" y="388.3" width="9.9" height="3.7" fill="#000" stroke="#000" stroke-width="1.1"/>
<rect x="331.2" y="385.9" width="9.9" height="6.1" fill="#9a9a9a" stroke="#000" stroke-width="1.1"/>
<rect x="341.1" y="391" width="9.9" height="1" fill="#fff" stroke="#000" stroke-width="1.1"/>
<line x1="326.25" y1="385.9" x2="326.25" y2="388.3" stroke="#000" stroke-width="1.4"/>
<line x1="322.29" y1="385.9" x2="330.21" y2="385.9" stroke="#000" stroke-width="1.4"/>
<line x1="322.29" y1="388.3" x2="330.21" y2="388.3" stroke="#000" stroke-width="1.4"/>
<line x1="336.15" y1="383" x2="336.15" y2="390.4" stroke="#000" stroke-width="1.4"/>
<line x1="332.19" y1="383" x2="340.11" y2="383" stroke="#000" stroke-width="1.4"/>
<line x1="332.19" y1="390.4" x2="340.11" y2="390.4" stroke="#000" stroke-width="1.4"/>
<rect x="362" y="313.6" width="9.6" height="78.4" fill="#000" stroke="#000" stroke-width="1.1"/>
<rect x="371.6" y="273.7" width="9.6" height="118.3" fill="#9a9a9a" stroke="#000" stroke-width="1.1"/>
<rect x="381.2" y="382" width="9.6" height="10" fill="#fff" stroke="#000" stroke-width="1.1"/>
<line x1="366.8" y1="278.5" x2="366.8" y2="313.6" stroke="#000" stroke-width="1.4"/>
<line x1="362.96" y1="278.5" x2="370.64" y2="278.5" stroke="#000" stroke-width="1.4"/>
<line x1="362.96" y1="313.6" x2="370.64" y2="313.6" stroke="#000" stroke-width="1.4"/>
<line x1="376.4" y1="223.75" x2="376.4" y2="323" stroke="#000" stroke-width="1.4"/>
<line x1="372.56" y1="223.75" x2="380.24" y2="223.75" stroke="#000" stroke-width="1.4"/>
<line x1="372.56" y1="323" x2="380.24" y2="323" stroke="#000" stroke-width="1.4"/>
<line x1="386" y1="378.8" x2="386" y2="388.2" stroke="#000" stroke-width="1.4"/>
<line x1="382.16" y1="378.8" x2="389.84" y2="378.8" stroke="#000" stroke-width="1.4"/>
<line x1="382.16" y1="388.2" x2="389.84" y2="388.2" stroke="#000" stroke-width="1.4"/>
<rect x="402" y="388.25" width="10" height="3.75" fill="#000" stroke="#000" stroke-width="1.1"/>
<rect x="412" y="389.5" width="10" height="2.5" fill="#9a9a9a" stroke="#000" stroke-width="1.1"/>
<rect x="422" y="390.5" width="10" height="1.5" fill="#fff" stroke="#000" stroke-width="1.1"/>
<rect x="443.25" y="386.25" width="9.1" height="5.75" fill="#000" stroke="#000" stroke-width="1.1"/>
<rect x="452.35" y="381.25" width="9.1" height="10.75" fill="#9a9a9a" stroke="#000" stroke-width="1.1"/>
<rect x="461.45" y="390" width="9.1" height="2" fill="#fff" stroke="#000" stroke-width="1.1"/>
<line x1="456.9" y1="377.5" x2="456.9" y2="385" stroke="#000" stroke-width="1.4"/>
<line x1="453.26" y1="377.5" x2="460.54" y2="377.5" stroke="#000" stroke-width="1.4"/>
<line x1="453.26" y1="385" x2="460.54" y2="385" stroke="#000" stroke-width="1.4"/>
<rect x="483.75" y="327" width="9.3" height="65" fill="#000" stroke="#000" stroke-width="1.1"/>
<rect x="493.05" y="319.25" width="9.3" height="72.75" fill="#9a9a9a" stroke="#000" stroke-width="1.1"/>
<rect x="502.35" y="354.25" width="9.3" height="37.75" fill="#fff" stroke="#000" stroke-width="1.1"/>
<line x1="488.4" y1="303.75" x2="488.4" y2="327" stroke="#000" stroke-width="1.4"/>
<line x1="484.68" y1="303.75" x2="492.12" y2="303.75" stroke="#000" stroke-width="1.4"/>
<line x1="484.68" y1="327" x2="492.12" y2="327" stroke="#000" stroke-width="1.4"/>
<line x1="497.7" y1="291.75" x2="497.7" y2="347.5" stroke="#000" stroke-width="1.4"/>
<line x1="493.98" y1="291.75" x2="501.42" y2="291.75" stroke="#000" stroke-width="1.4"/>
<line x1="493.98" y1="347.5" x2="501.42" y2="347.5" stroke="#000" stroke-width="1.4"/>
<line x1="507" y1="326.25" x2="507" y2="382.5" stroke="#000" stroke-width="1.4"/>
<line x1="503.28" y1="326.25" x2="510.72" y2="326.25" stroke="#000" stroke-width="1.4"/>
<line x1="503.28" y1="382.5" x2="510.72" y2="382.5" stroke="#000" stroke-width="1.4"/>
<text x="284.6" y="244.6" font-size="16" stroke="#000" stroke-width="0.45">Fra2<tspan dy="-6" font-size="9" font-style="italic" font-weight="bold">f/f</tspan></text>
<text x="402.8" y="244.25" font-size="16" textLength="103.5" lengthAdjust="spacingAndGlyphs" stroke="#000" stroke-width="0.45">Fra2<tspan dy="-6" font-size="9" font-style="italic" font-weight="bold">f/f</tspan><tspan dy="6"> CD4cre</tspan></text>
<text transform="translate(240.4,388.4) rotate(-90)" font-size="14.2" stroke="#000" stroke-width="0.5" textLength="145.6" lengthAdjust="spacingAndGlyphs">IFN<tspan font-size="11" dy="1.5">γ</tspan><tspan dy="-1.5"> spots per10</tspan><tspan dy="-5" font-size="9">6</tspan><tspan dy="5"> cells</tspan></text>
<text x="277.4" y="420.1" font-size="14" textLength="32.99" lengthAdjust="spacingAndGlyphs" stroke="#000" stroke-width="0.5">naïve</text>
<text x="322.51" y="420.2" font-size="14" textLength="26.21" lengthAdjust="spacingAndGlyphs" stroke="#000" stroke-width="0.5">OVA</text>
<text x="362.03" y="413.9" font-size="14" textLength="25.39" lengthAdjust="spacingAndGlyphs" stroke="#000" stroke-width="0.5">OVA</text>
<text x="362.06" y="425.6" font-size="14" textLength="26.33" lengthAdjust="spacingAndGlyphs" stroke="#000" stroke-width="0.5">aGC</text>
<text x="400.92" y="420.3" font-size="14" textLength="32.58" lengthAdjust="spacingAndGlyphs" stroke="#000" stroke-width="0.5">naïve</text>
<text x="445" y="420.3" font-size="14" textLength="26.72" lengthAdjust="spacingAndGlyphs" stroke="#000" stroke-width="0.5">OVA</text>
<text x="485.44" y="414.2" font-size="14" textLength="24.78" lengthAdjust="spacingAndGlyphs" stroke="#000" stroke-width="0.5">OVA</text>
<text x="485.46" y="425.6" font-size="14" textLength="25.92" lengthAdjust="spacingAndGlyphs" stroke="#000" stroke-width="0.5">aGC</text>
<rect x="63.5" y="458" width="244.5" height="173.6" fill="none" stroke="#000" stroke-width="1.6"/>
<line x1="185.7" y1="458" x2="185.7" y2="631.6" stroke="#000" stroke-width="1.4"/>
<line x1="61.5" y1="631.6" x2="63.5" y2="631.6" stroke="#000" stroke-width="1.0"/>
<text x="42.39" y="635.2" font-size="13.5" textLength="8.03" lengthAdjust="spacingAndGlyphs" stroke="#000" stroke-width="0.45">0</text>
<line x1="61.5" y1="609.8" x2="63.5" y2="609.8" stroke="#000" stroke-width="1.0"/>
<text x="38.71" y="613.33" font-size="13.5" textLength="15.22" lengthAdjust="spacingAndGlyphs" stroke="#000" stroke-width="0.45">20</text>
<line x1="61.5" y1="588" x2="63.5" y2="588" stroke="#000" stroke-width="1.0"/>
<text x="39.09" y="591.46" font-size="13.5" textLength="14.83" lengthAdjust="spacingAndGlyphs" stroke="#000" stroke-width="0.45">40</text>
<line x1="61.5" y1="566.2" x2="63.5" y2="566.2" stroke="#000" stroke-width="1.0"/>
<text x="38.7" y="569.59" font-size="13.5" textLength="15.23" lengthAdjust="spacingAndGlyphs" stroke="#000" stroke-width="0.45">60</text>
<line x1="61.5" y1="544.4" x2="63.5" y2="544.4" stroke="#000" stroke-width="1.0"/>
<text x="38.81" y="547.72" font-size="13.5" textLength="15.12" lengthAdjust="spacingAndGlyphs" stroke="#000" stroke-width="0.45">80</text>
<line x1="61.5" y1="522.6" x2="63.5" y2="522.6" stroke="#000" stroke-width="1.0"/>
<text x="36.33" y="525.85" font-size="13.5" textLength="21.27" lengthAdjust="spacingAndGlyphs" stroke="#000" stroke-width="0.45">100</text>
<line x1="61.5" y1="500.8" x2="63.5" y2="500.8" stroke="#000" stroke-width="1.0"/>
<text x="36.33" y="503.98" font-size="13.5" textLength="21.27" lengthAdjust="spacingAndGlyphs" stroke="#000" stroke-width="0.45">120</text>
<line x1="61.5" y1="479" x2="63.5" y2="479" stroke="#000" stroke-width="1.0"/>
<text x="36.33" y="482.11" font-size="13.5" textLength="21.27" lengthAdjust="spacingAndGlyphs" stroke="#000" stroke-width="0.45">140</text>
<rect x="70.4" y="617.2" width="9.1" height="14.4" fill="#000" stroke="#000" stroke-width="1.1"/>
<rect x="79.5" y="622.5" width="9.1" height="9.1" fill="#9a9a9a" stroke="#000" stroke-width="1.1"/>
<rect x="88.6" y="621.4" width="9.1" height="10.2" fill="#fff" stroke="#000" stroke-width="1.1"/>
<line x1="74.95" y1="605.6" x2="74.95" y2="617.2" stroke="#000" stroke-width="1.5"/>
<line x1="72.35" y1="605.6" x2="77.55" y2="605.6" stroke="#000" stroke-width="1.5"/>
<line x1="84.05" y1="615.1" x2="84.05" y2="622.5" stroke="#000" stroke-width="1.5"/>
<line x1="81.45" y1="615.1" x2="86.65" y2="615.1" stroke="#000" stroke-width="1.5"/>
<line x1="93.15" y1="612.3" x2="93.15" y2="621.4" stroke="#000" stroke-width="1.5"/>
<line x1="90.55" y1="612.3" x2="95.75" y2="612.3" stroke="#000" stroke-width="1.5"/>
<rect x="110.5" y="621.4" width="9.2" height="10.2" fill="#000" stroke="#000" stroke-width="1.1"/>
<rect x="119.7" y="616.6" width="9.2" height="15" fill="#9a9a9a" stroke="#000" stroke-width="1.1"/>
<rect x="128.9" y="622.9" width="9.2" height="8.7" fill="#fff" stroke="#000" stroke-width="1.1"/>
<line x1="115.1" y1="615.7" x2="115.1" y2="621.4" stroke="#000" stroke-width="1.5"/>
<line x1="112.5" y1="615.7" x2="117.7" y2="615.7" stroke="#000" stroke-width="1.5"/>
<line x1="124.3" y1="612" x2="124.3" y2="616.6" stroke="#000" stroke-width="1.5"/>
<line x1="121.7" y1="612" x2="126.9" y2="612" stroke="#000" stroke-width="1.5"/>
<line x1="133.5" y1="620.4" x2="133.5" y2="622.9" stroke="#000" stroke-width="1.5"/>
<line x1="130.9" y1="620.4" x2="136.1" y2="620.4" stroke="#000" stroke-width="1.5"/>
<rect x="151.8" y="571.3" width="9.17" height="60.3" fill="#000" stroke="#000" stroke-width="1.1"/>
<rect x="160.97" y="534.2" width="9.17" height="97.4" fill="#9a9a9a" stroke="#000" stroke-width="1.1"/>
<rect x="170.14" y="553.7" width="9.17" height="77.9" fill="#fff" stroke="#000" stroke-width="1.1"/>
<line x1="156.39" y1="549.5" x2="156.39" y2="571.3" stroke="#000" stroke-width="1.5"/>
<line x1="153.79" y1="549.5" x2="158.99" y2="549.5" stroke="#000" stroke-width="1.5"/>
<line x1="165.56" y1="506.7" x2="165.56" y2="534.2" stroke="#000" stroke-width="1.5"/>
<line x1="162.96" y1="506.7" x2="168.16" y2="506.7" stroke="#000" stroke-width="1.5"/>
<line x1="174.73" y1="528.7" x2="174.73" y2="553.7" stroke="#000" stroke-width="1.5"/>
<line x1="172.13" y1="528.7" x2="177.33" y2="528.7" stroke="#000" stroke-width="1.5"/>
<rect x="192.7" y="618.1" width="9.03" height="13.5" fill="#000" stroke="#000" stroke-width="1.1"/>
<rect x="201.73" y="619.4" width="9.03" height="12.2" fill="#9a9a9a" stroke="#000" stroke-width="1.1"/>
<rect x="210.76" y="620" width="9.03" height="11.6" fill="#fff" stroke="#000" stroke-width="1.1"/>
<line x1="197.21" y1="610.8" x2="197.21" y2="618.1" stroke="#000" stroke-width="1.5"/>
<line x1="194.61" y1="610.8" x2="199.81" y2="610.8" stroke="#000" stroke-width="1.5"/>
<line x1="206.24" y1="612.2" x2="206.24" y2="619.4" stroke="#000" stroke-width="1.5"/>
<line x1="203.64" y1="612.2" x2="208.84" y2="612.2" stroke="#000" stroke-width="1.5"/>
<line x1="215.27" y1="610.8" x2="215.27" y2="620" stroke="#000" stroke-width="1.5"/>
<line x1="212.67" y1="610.8" x2="217.87" y2="610.8" stroke="#000" stroke-width="1.5"/>
<rect x="233.3" y="619.4" width="9.17" height="12.2" fill="#000" stroke="#000" stroke-width="1.1"/>
<rect x="242.47" y="621.3" width="9.17" height="10.3" fill="#9a9a9a" stroke="#000" stroke-width="1.1"/>
<rect x="251.64" y="617.3" width="9.17" height="14.3" fill="#fff" stroke="#000" stroke-width="1.1"/>
<line x1="237.89" y1="612.2" x2="237.89" y2="619.4" stroke="#000" stroke-width="1.5"/>
<line x1="235.29" y1="612.2" x2="240.49" y2="612.2" stroke="#000" stroke-width="1.5"/>
<line x1="247.06" y1="615.4" x2="247.06" y2="621.3" stroke="#000" stroke-width="1.5"/>
<line x1="244.46" y1="615.4" x2="249.66" y2="615.4" stroke="#000" stroke-width="1.5"/>
<line x1="256.23" y1="613.2" x2="256.23" y2="617.3" stroke="#000" stroke-width="1.5"/>
<line x1="253.63" y1="613.2" x2="258.83" y2="613.2" stroke="#000" stroke-width="1.5"/>
<rect x="273.7" y="582.3" width="9.33" height="49.3" fill="#000" stroke="#000" stroke-width="1.1"/>
<rect x="283.03" y="509.2" width="9.33" height="122.4" fill="#9a9a9a" stroke="#000" stroke-width="1.1"/>
<rect x="292.36" y="559.4" width="9.33" height="72.2" fill="#fff" stroke="#000" stroke-width="1.1"/>
<line x1="278.37" y1="570.2" x2="278.37" y2="582.3" stroke="#000" stroke-width="1.5"/>
<line x1="275.76" y1="570.2" x2="280.97" y2="570.2" stroke="#000" stroke-width="1.5"/>
<line x1="287.69" y1="481" x2="287.69" y2="509.2" stroke="#000" stroke-width="1.5"/>
<line x1="285.09" y1="481" x2="290.3" y2="481" stroke="#000" stroke-width="1.5"/>
<line x1="297.03" y1="550.8" x2="297.03" y2="559.4" stroke="#000" stroke-width="1.5"/>
<line x1="294.43" y1="550.8" x2="299.63" y2="550.8" stroke="#000" stroke-width="1.5"/>
<text x="69.9" y="483.8" font-size="16" stroke="#000" stroke-width="0.45">Fra2<tspan dy="-6" font-size="9" font-style="italic" font-weight="bold">f/f</tspan></text>
<text x="189.5" y="484.2" font-size="16" textLength="102" lengthAdjust="spacingAndGlyphs" stroke="#000" stroke-width="0.45">Fra2<tspan dy="-6" font-size="9" font-style="italic" font-weight="bold">f/f</tspan><tspan dy="6"> CD4cre</tspan></text>
<text transform="translate(28.2,620.8) rotate(-90)" font-size="14.2" stroke="#000" stroke-width="0.5" textLength="136.8" lengthAdjust="spacingAndGlyphs">IL4 spots per10<tspan dy="-5" font-size="9">6</tspan><tspan dy="5"> cells</tspan></text>
<text x="66.93" y="657.6" font-size="14" textLength="32.16" lengthAdjust="spacingAndGlyphs" stroke="#000" stroke-width="0.5">naïve</text>
<text x="111" y="657.6" font-size="14" textLength="26.72" lengthAdjust="spacingAndGlyphs" stroke="#000" stroke-width="0.5">OVA</text>
<text x="151.42" y="651.8" font-size="14" textLength="26.01" lengthAdjust="spacingAndGlyphs" stroke="#000" stroke-width="0.5">OVA</text>
<text x="151.45" y="663.5" font-size="14" textLength="26.44" lengthAdjust="spacingAndGlyphs" stroke="#000" stroke-width="0.5">aGC</text>
<text x="190.93" y="657.6" font-size="14" textLength="32.16" lengthAdjust="spacingAndGlyphs" stroke="#000" stroke-width="0.5">naïve</text>
<text x="234.3" y="657.6" font-size="14" textLength="26.72" lengthAdjust="spacingAndGlyphs" stroke="#000" stroke-width="0.5">OVA</text>
<text x="274.93" y="651.8" font-size="14" textLength="25.29" lengthAdjust="spacingAndGlyphs" stroke="#000" stroke-width="0.5">OVA</text>
<text x="274.96" y="663.5" font-size="14" textLength="26.02" lengthAdjust="spacingAndGlyphs" stroke="#000" stroke-width="0.5">aGC</text>
<rect x="382.5" y="479" width="136.1" height="142.5" fill="none" stroke="#000" stroke-width="1.8"/>
<line x1="518.6" y1="479" x2="518.6" y2="626.7" stroke="#000" stroke-width="2.4"/>
<line x1="378.2" y1="621.5" x2="382.5" y2="621.5" stroke="#000" stroke-width="1.8"/>
<text x="368.73" y="626.4" font-size="13" textLength="8.14" lengthAdjust="spacingAndGlyphs" stroke="#000" stroke-width="0.6">0</text>
<line x1="378.2" y1="607.26" x2="382.5" y2="607.26" stroke="#000" stroke-width="1.8"/>
<text x="359.06" y="612.16" font-size="13" textLength="19.24" lengthAdjust="spacingAndGlyphs" stroke="#000" stroke-width="0.6">0.2</text>
<line x1="378.2" y1="593.02" x2="382.5" y2="593.02" stroke="#000" stroke-width="1.8"/>
<text x="359.07" y="597.92" font-size="13" textLength="18.93" lengthAdjust="spacingAndGlyphs" stroke="#000" stroke-width="0.6">0.4</text>
<line x1="378.2" y1="578.78" x2="382.5" y2="578.78" stroke="#000" stroke-width="1.8"/>
<text x="359.06" y="583.68" font-size="13" textLength="19.14" lengthAdjust="spacingAndGlyphs" stroke="#000" stroke-width="0.6">0.6</text>
<line x1="378.2" y1="564.54" x2="382.5" y2="564.54" stroke="#000" stroke-width="1.8"/>
<text x="359.06" y="569.44" font-size="13" textLength="19.14" lengthAdjust="spacingAndGlyphs" stroke="#000" stroke-width="0.6">0.8</text>
<line x1="378.2" y1="550.3" x2="382.5" y2="550.3" stroke="#000" stroke-width="1.8"/>
<text x="368.06" y="555.2" font-size="13" textLength="9.03" lengthAdjust="spacingAndGlyphs" stroke="#000" stroke-width="0.6">1</text>
<line x1="378.2" y1="536.06" x2="382.5" y2="536.06" stroke="#000" stroke-width="1.8"/>
<text x="358.51" y="540.96" font-size="13" textLength="19.8" lengthAdjust="spacingAndGlyphs" stroke="#000" stroke-width="0.6">1.2</text>
<line x1="378.2" y1="521.82" x2="382.5" y2="521.82" stroke="#000" stroke-width="1.8"/>
<text x="358.53" y="526.72" font-size="13" textLength="19.48" lengthAdjust="spacingAndGlyphs" stroke="#000" stroke-width="0.6">1.4</text>
<line x1="378.2" y1="507.58" x2="382.5" y2="507.58" stroke="#000" stroke-width="1.8"/>
<text x="358.52" y="512.48" font-size="13" textLength="19.7" lengthAdjust="spacingAndGlyphs" stroke="#000" stroke-width="0.6">1.6</text>
<line x1="378.2" y1="493.34" x2="382.5" y2="493.34" stroke="#000" stroke-width="1.8"/>
<text x="358.52" y="498.24" font-size="13" textLength="19.69" lengthAdjust="spacingAndGlyphs" stroke="#000" stroke-width="0.6">1.8</text>
<line x1="378.2" y1="479.1" x2="382.5" y2="479.1" stroke="#000" stroke-width="1.8"/>
<text x="368.53" y="484" font-size="13" textLength="8.55" lengthAdjust="spacingAndGlyphs" stroke="#000" stroke-width="0.6">2</text>
<line x1="382.5" y1="621.5" x2="382.5" y2="626.7" stroke="#000" stroke-width="1.8"/>
<line x1="428" y1="621.5" x2="428" y2="626.7" stroke="#000" stroke-width="1.8"/>
<line x1="473.1" y1="621.5" x2="473.1" y2="626.7" stroke="#000" stroke-width="1.8"/>
<rect x="391.2" y="610.2" width="13.4" height="11.3" fill="#000" stroke="#000" stroke-width="1.2"/>
<rect x="404.6" y="605" width="13.9" height="16.5" fill="#cfcfcf" stroke="#000" stroke-width="1.6"/>
<rect x="437.1" y="580.6" width="14.6" height="40.9" fill="#000" stroke="#000" stroke-width="1.2"/>
<rect x="451.7" y="583" width="12.9" height="38.5" fill="#cfcfcf" stroke="#000" stroke-width="1.6"/>
<rect x="482.6" y="510.8" width="14.1" height="110.7" fill="#000" stroke="#000" stroke-width="1.2"/>
<rect x="496.7" y="545" width="13.2" height="76.5" fill="#cfcfcf" stroke="#000" stroke-width="1.6"/>
<line x1="444.5" y1="549.1" x2="444.5" y2="580.6" stroke="#000" stroke-width="1.6"/>
<line x1="441.5" y1="549.1" x2="447.5" y2="549.1" stroke="#000" stroke-width="1.6"/>
<line x1="441.5" y1="580.6" x2="447.5" y2="580.6" stroke="#000" stroke-width="1.6"/>
<rect x="455.5" y="581.3" width="5" height="4.2" fill="#000"/>
<line x1="490" y1="488.6" x2="490" y2="510.8" stroke="#000" stroke-width="1.6"/>
<line x1="487" y1="488.6" x2="493" y2="488.6" stroke="#000" stroke-width="1.6"/>
<line x1="487" y1="510.8" x2="493" y2="510.8" stroke="#000" stroke-width="1.6"/>
<line x1="502.7" y1="505.5" x2="502.7" y2="584.4" stroke="#000" stroke-width="1.6"/>
<line x1="499.7" y1="505.5" x2="505.7" y2="505.5" stroke="#000" stroke-width="1.6"/>
<line x1="499.7" y1="584.4" x2="505.7" y2="584.4" stroke="#000" stroke-width="1.6"/>
<text transform="translate(344.6,576.21) rotate(-90)" font-size="14.5" textLength="22.53" lengthAdjust="spacingAndGlyphs" stroke="#000" stroke-width="0.45">OD</text>
<text transform="translate(350.4,554.04) rotate(-90)" font-size="9.5" textLength="17.45" lengthAdjust="spacingAndGlyphs" stroke="#000" stroke-width="0.35">450</text>
<text x="388.62" y="648" font-size="14" textLength="32.47" lengthAdjust="spacingAndGlyphs" stroke="#000" stroke-width="0.5">naïve</text>
<text x="438.16" y="648" font-size="14" textLength="26.37" lengthAdjust="spacingAndGlyphs" stroke="#000" stroke-width="0.5">OVA</text>
<text x="483.18" y="641.75" font-size="14" textLength="25.6" lengthAdjust="spacingAndGlyphs" stroke="#000" stroke-width="0.5">OVA</text>
<text x="483.19" y="654" font-size="14" textLength="27.32" lengthAdjust="spacingAndGlyphs" stroke="#000" stroke-width="0.5">aGC</text>
</svg>
</body></html>
